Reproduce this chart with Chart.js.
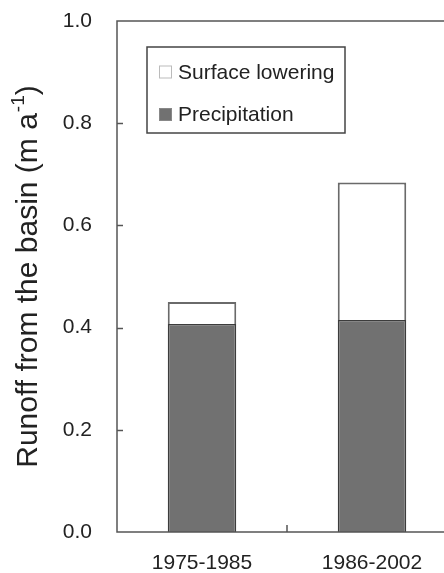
<html>
    <head>
        <meta charset="utf-8">
        <title>Runoff from the basin</title>
        <style>
            html, body { margin: 0; padding: 0; overflow: hidden; background: #fff; }
        </style>
    </head>
    <body>
        <canvas id="chart" width="458" height="573"></canvas>
        <script src="https://cdn.jsdelivr.net/npm/chart.js"></script>
        <script type="text/javascript">
            // values
            var periods = ["1975-1985", "1986-2002"];
            var precipitation = [0.407, 0.415];
            var surfaceLowering = [0.043, 0.269];
            var yTicks = [0, 0.2, 0.4, 0.6, 0.8, 1.0];

            var axisColor = "#555";
            var textColor = "#222";
            var font = "Arial, 'Liberation Sans', Helvetica, sans-serif";

            // frame, inward ticks, y title with superscript, legend box
            var decorations = {
                id: "decorations",
                afterDraw: function (chart) {
                    var c = chart.ctx;
                    var a = chart.chartArea;
                    var y = chart.scales.y;
                    var x = chart.scales.x;
                    c.save();
                    c.strokeStyle = axisColor;
                    c.lineWidth = 1.5;
                    c.strokeRect(a.left, a.top, a.right - a.left, a.bottom - a.top);

                    yTicks.forEach(function (v) {
                        if (v <= 0 || v >= 1) return;
                        var py = Math.round(y.getPixelForValue(v)) + 0.5;
                        c.beginPath();
                        c.moveTo(a.left, py);
                        c.lineTo(a.left + 6, py);
                        c.stroke();
                    });
                    for (var i = 0; i < periods.length - 1; i++) {
                        var px = (x.getPixelForTick(i) + x.getPixelForTick(i + 1)) / 2;
                        c.beginPath();
                        c.moveTo(px, a.bottom);
                        c.lineTo(px, a.bottom - 7);
                        c.stroke();
                    }

                    // y axis title
                    c.translate(29, (a.top + a.bottom) / 2);
                    c.rotate(-Math.PI / 2);
                    c.fillStyle = textColor;
                    c.textBaseline = "middle";
                    var main = "Runoff from the basin (m a";
                    var sup = "-1";
                    var end = ")";
                    var big = "30px " + font, small = "19px " + font;
                    c.font = big;
                    var w1 = c.measureText(main).width;
                    var w3 = c.measureText(end).width;
                    c.font = small;
                    var w2 = c.measureText(sup).width + 1;
                    var start = -(w1 + w2 + w3) / 2;
                    c.textAlign = "left";
                    c.font = big;
                    c.fillText(main, start, 0);
                    c.font = small;
                    c.fillText(sup, start + w1 + 1, -10);
                    c.font = big;
                    c.fillText(end, start + w1 + w2, 0);
                    c.restore();

                    // legend
                    c.save();
                    var lx = a.left + 30, ly = a.top + 26;
                    c.strokeStyle = "#444";
                    c.lineWidth = 1.5;
                    c.strokeRect(lx, ly, 198, 86);
                    var items = chart.data.datasets.slice().reverse();
                    c.font = "21px " + font;
                    c.textBaseline = "middle";
                    c.fillStyle = textColor;
                    items.forEach(function (ds, k) {
                        var cy = ly + 25 + k * 42.5;
                        c.fillStyle = ds.backgroundColor;
                        c.fillRect(lx + 12, cy - 6.5, 13, 13);
                        c.strokeStyle = ds.legendBorder;
                        c.lineWidth = 1;
                        c.strokeRect(lx + 12.5, cy - 6, 12, 12);
                        c.fillStyle = textColor;
                        c.fillText(ds.label, lx + 31, cy + 1);
                    });
                    c.restore();
                }
            };

            var ctx = document.getElementById("chart");
            var chart = new Chart(ctx, {
                type: "bar",
                data: {
                    labels: periods,
                    datasets: [{
                        label: "Precipitation",
                        data: precipitation,
                        backgroundColor: "#717171",
                        borderColor: "#3c3c3c",
                        legendBorder: "#888",
                        borderWidth: 1.5,
                        barPercentage: 0.403,
                        categoryPercentage: 1
                    }, {
                        label: "Surface lowering",
                        data: surfaceLowering,
                        backgroundColor: "#ffffff",
                        borderColor: "#6a6a6a",
                        legendBorder: "#bbb",
                        borderWidth: 2,
                        barPercentage: 0.403,
                        categoryPercentage: 1
                    }]
                },
                options: {
                    responsive: false,
                    animation: false,
                    devicePixelRatio: 1,
                    layout: { padding: { top: 21, right: 1, left: 0, bottom: 0 } },
                    plugins: {
                        legend: { display: false },
                        tooltip: { enabled: false }
                    },
                    scales: {
                        x: {
                            stacked: true,
                            offset: true,
                            grid: { display: false, drawTicks: true, tickLength: 19 },
                            border: { display: false },
                            ticks: {
                                color: textColor,
                                padding: 0,
                                font: { family: font, size: 21 }
                            },
                            afterFit: function (s) { s.height = 41; }
                        },
                        y: {
                            stacked: true,
                            min: 0,
                            max: 1,
                            grid: { display: false, drawTicks: true, tickLength: 25 },
                            border: { display: false },
                            afterBuildTicks: function (s) {
                                s.ticks = yTicks.map(function (v) { return { value: v }; });
                            },
                            ticks: {
                                color: textColor,
                                padding: 0,
                                font: { family: font, size: 21 },
                                callback: function (v) { return Number(v).toFixed(1); }
                            },
                            afterFit: function (s) { s.width = 117; }
                        }
                    }
                },
                plugins: [decorations]
            });
        </script>
    </body>
</html>
